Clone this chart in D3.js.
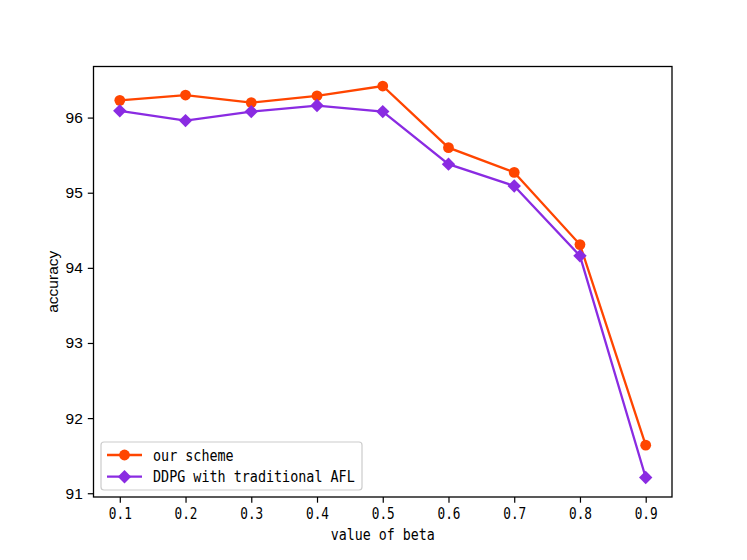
<!DOCTYPE html>
<html><head><meta charset="utf-8">
<script src="https://cdn.jsdelivr.net/npm/d3@7"></script>
<style>body{margin:0;background:#fff}svg{display:block}</style>
</head><body>
<svg id="c" width="747" height="560"></svg>
<script>
const betas = [0.1,0.2,0.3,0.4,0.5,0.6,0.7,0.8,0.9];
const ourScheme = [96.23,96.30,96.20,96.29,96.42,95.60,95.27,94.31,91.64];
const ddpgAFL = [96.09,95.96,96.08,96.16,96.08,95.38,95.09,94.16,91.21];
const xTicks = [0.1,0.2,0.3,0.4,0.5,0.6,0.7,0.8,0.9];
const yTicks = [91,92,93,94,95,96];
const seriesNames = ["our scheme","DDPG with traditional AFL"];
const colors = ["#ff4500","#8a2be2"];

const svg = d3.select("#c");
const L=93.5, R=672, T=66.5, B=497;
const x = d3.scaleLinear().domain([0.06,0.94]).range([L,R]);
const y = d3.scaleLinear().domain([90.95,96.68]).range([B,T]);
const monoFont = "'DejaVu Sans Mono','Liberation Mono',monospace";
const sansFont = "'Liberation Sans',Arial,sans-serif";

// axes
const xa = svg.append("g").attr("transform",`translate(0,${B})`)
  .call(d3.axisBottom(x).tickValues(xTicks).tickSize(5.7).tickPadding(5).tickFormat(d=>d3.format(".1f")(d)));
const ya = svg.append("g").attr("transform",`translate(${L},0)`)
  .call(d3.axisLeft(y).tickValues(yTicks).tickSize(5.7).tickPadding(5).tickFormat(d3.format("d")));
[xa,ya].forEach(a=>{a.select(".domain").remove();a.selectAll("line").attr("stroke","#000").attr("stroke-width",1.2);});
xa.selectAll("text").attr("font-family",monoFont).attr("font-size",15.5).attr("fill","#000")
  .attr("textLength",23).attr("lengthAdjust","spacingAndGlyphs");
ya.selectAll("text").attr("font-family",sansFont).attr("font-size",15.5).attr("fill","#000");

svg.append("rect").attr("x",L).attr("y",T).attr("width",R-L).attr("height",B-T)
  .attr("fill","none").attr("stroke","#000").attr("stroke-width",1.3);

// labels
svg.append("text").attr("x",(L+R)/2).attr("y",540).attr("text-anchor","middle")
  .attr("font-family",monoFont).attr("font-size",15.5).attr("textLength",104).attr("lengthAdjust","spacingAndGlyphs")
  .text("value of beta");
svg.append("text").attr("transform",`translate(58,${(T+B)/2}) rotate(-90)`).attr("text-anchor","middle")
  .attr("font-family",sansFont).attr("font-size",15.5).text("accuracy");

const line = d3.line().x((d,i)=>x(betas[i])).y(d=>y(d));
const diamond = (cx,cy,s)=>`M${cx},${cy-s}L${cx+s},${cy}L${cx},${cy+s}L${cx-s},${cy}Z`;
const data=[ourScheme,ddpgAFL];
data.forEach((vals,k)=>{
  svg.append("path").datum(vals).attr("d",line).attr("fill","none").attr("stroke",colors[k]).attr("stroke-width",2.3);
  if(k===0){
    svg.append("g").selectAll("circle").data(vals).join("circle")
      .attr("cx",(d,i)=>x(betas[i])).attr("cy",d=>y(d)).attr("r",5.4).attr("fill",colors[k]);
  } else {
    svg.append("g").selectAll("path").data(vals).join("path")
      .attr("d",(d,i)=>diamond(x(betas[i]),y(d),6.7)).attr("fill",colors[k]);
  }
});

// legend
const lg = svg.append("g");
lg.append("rect").attr("x",101).attr("y",442).attr("width",261).attr("height",48).attr("rx",3)
  .attr("fill","#fff").attr("fill-opacity",0.8).attr("stroke","#ccc").attr("stroke-width",1.2);
seriesNames.forEach((n,k)=>{
  const cy = 455+k*21.7;
  lg.append("line").attr("x1",107).attr("x2",142).attr("y1",cy).attr("y2",cy).attr("stroke",colors[k]).attr("stroke-width",2.3);
  if(k===0) lg.append("circle").attr("cx",124.5).attr("cy",cy).attr("r",5.4).attr("fill",colors[k]);
  else lg.append("path").attr("d",diamond(124.5,cy,6.7)).attr("fill",colors[k]);
  lg.append("text").attr("x",153).attr("y",cy+5.5).attr("font-family",monoFont).attr("font-size",15.5)
    .attr("textLength",n.length*8.07).attr("lengthAdjust","spacingAndGlyphs").text(n);
});
</script>
</body></html>
